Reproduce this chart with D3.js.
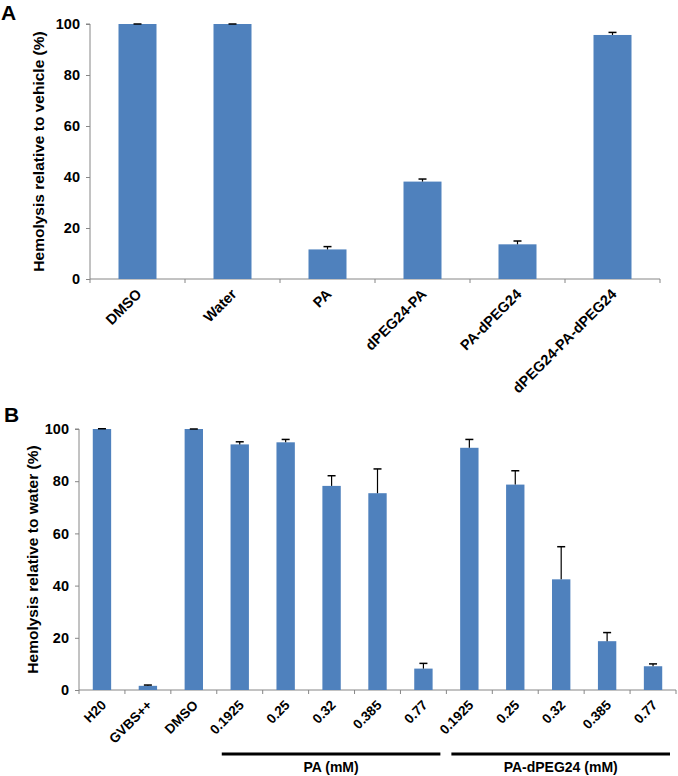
<!DOCTYPE html>
<html>
<head>
<meta charset="utf-8">
<script src="https://cdn.jsdelivr.net/npm/d3@7"></script>
<style>
  body { margin: 0; background: #fff; }
  text { font-family: Arial, "Liberation Sans", sans-serif; font-weight: bold; fill: #000; }
</style>
</head>
<body>
<div id="chart"></div>
<script>
// Panel A data
const catsA = ["DMSO", "Water", "PA", "dPEG24-PA", "PA-dPEG24", "dPEG24-PA-dPEG24"];
const valsA = [100, 100, 11.6, 38.2, 13.6, 95.7];
const errA = [0, 0, 1.1, 1.0, 1.3, 1.0];

// Panel B data
const catsB = ["H20", "GVBS++", "DMSO", "0.1925", "0.25", "0.32", "0.385", "0.77", "0.1925", "0.25", "0.32", "0.385", "0.77"];
const valsB = [100, 1.6, 100, 94.1, 94.9, 78.2, 75.4, 8.2, 92.8, 78.7, 42.4, 18.7, 9.1];
const errB = [0.1, 0.3, 0, 1.0, 1.1, 3.9, 9.3, 2.0, 3.2, 5.3, 12.5, 3.3, 0.9];
const groupsB = [
    { label: "PA (mM)", from: 3, to: 7 },
    { label: "PA-dPEG24 (mM)", from: 8, to: 12 }
];

const yTicks = [0, 20, 40, 60, 80, 100];
const barColor = "#4f81bd";
const axisColor = "#868686";

const svg = d3.select("#chart").append("svg")
    .attr("width", 678)
    .attr("height", 776);

function drawPanel(opts) {
    const g = svg.append("g");
    const idx = opts.cats.map((c, i) => i);

    const x = d3.scaleBand()
        .domain(idx)
        .range([opts.x0, opts.x1])
        .paddingInner(0.6)
        .paddingOuter(0.3);
    const y = d3.scaleLinear().domain([0, 100]).range([opts.y0, opts.y1]);

    // y axis
    const yAxis = g.append("g")
        .attr("transform", `translate(${opts.x0},0)`)
        .call(d3.axisLeft(y).tickValues(yTicks).tickSize(4).tickPadding(6));
    yAxis.select(".domain").attr("stroke", axisColor).attr("d", `M-4,${y(100)}H0V${y(0)}`);
    yAxis.selectAll(".tick line").attr("stroke", axisColor);
    yAxis.selectAll(".tick text")
        .style("font-size", "14.5px")
        .style("font-family", "Arial, 'Liberation Sans', sans-serif")
        .style("font-weight", "bold")
        .attr("fill", "#000");

    // x axis line, ticks sit between categories
    g.append("line")
        .attr("x1", opts.x0).attr("x2", opts.x1)
        .attr("y1", opts.y0).attr("y2", opts.y0)
        .attr("stroke", axisColor);
    d3.range(opts.cats.length + 1).forEach(i => {
        const tx = opts.x0 + i * x.step();
        g.append("line")
            .attr("x1", tx).attr("x2", tx)
            .attr("y1", opts.y0).attr("y2", opts.y0 + 4)
            .attr("stroke", axisColor);
    });

    // bars
    g.selectAll("rect.bar")
        .data(idx)
        .join("rect")
        .attr("class", "bar")
        .attr("x", i => x(i))
        .attr("width", x.bandwidth())
        .attr("y", i => y(opts.vals[i]))
        .attr("height", i => y(0) - y(opts.vals[i]))
        .attr("fill", barColor);

    // error bars (upper only)
    idx.forEach(i => {
        const cx = x(i) + x.bandwidth() / 2;
        const top = y(opts.vals[i] + opts.errs[i]);
        g.append("line")
            .attr("x1", cx).attr("x2", cx)
            .attr("y1", y(opts.vals[i])).attr("y2", top)
            .attr("stroke", "#000").attr("stroke-width", 1.2);
        g.append("line")
            .attr("x1", cx - 4).attr("x2", cx + 4)
            .attr("y1", top).attr("y2", top)
            .attr("stroke", "#000").attr("stroke-width", 1.5);
    });

    // rotated category labels
    g.selectAll("text.cat")
        .data(idx)
        .join("text")
        .attr("class", "cat")
        .attr("text-anchor", "end")
        .style("font-size", opts.catSize + "px")
        .attr("transform", i => `translate(${x(i) + x.bandwidth() / 2 + 5},${opts.y0 + 16}) rotate(-45)`)
        .text(i => opts.cats[i]);

    // y label
    g.append("text")
        .attr("text-anchor", "middle")
        .style("font-size", "15.5px")
        .attr("transform", `translate(${opts.labelX},${(opts.y0 + opts.y1) / 2}) rotate(-90)`)
        .text(opts.yLabel);

    // panel letter
    g.append("text")
        .attr("x", opts.letterX)
        .attr("y", opts.letterY)
        .style("font-size", "21px")
        .text(opts.letter);

    return x;
}

drawPanel({
    cats: catsA, vals: valsA, errs: errA,
    x0: 90, x1: 660, y0: 279, y1: 24,
    catSize: 14.5, labelX: 44,
    yLabel: "Hemolysis relative to vehicle (%)",
    letter: "A", letterX: 1, letterY: 20
});

const xB = drawPanel({
    cats: catsB, vals: valsB, errs: errB,
    x0: 79, x1: 676, y0: 690, y1: 429,
    catSize: 13.5, labelX: 38,
    yLabel: "Hemolysis relative to water (%)",
    letter: "B", letterX: 4, letterY: 422
});

// group brackets under panel B
groupsB.forEach(gr => {
    const xs = xB(gr.from) - xB.step() * xB.paddingInner() / 2 + 5;
    const xe = xB(gr.to) + xB.bandwidth() + xB.step() * xB.paddingInner() / 2 - 6;
    svg.append("line")
        .attr("x1", xs).attr("x2", xe)
        .attr("y1", 754).attr("y2", 754)
        .attr("stroke", "#000").attr("stroke-width", 3);
    svg.append("text")
        .attr("x", (xs + xe) / 2)
        .attr("y", 772)
        .attr("text-anchor", "middle")
        .style("font-size", "14px")
        .text(gr.label);
});
</script>
</body>
</html>
